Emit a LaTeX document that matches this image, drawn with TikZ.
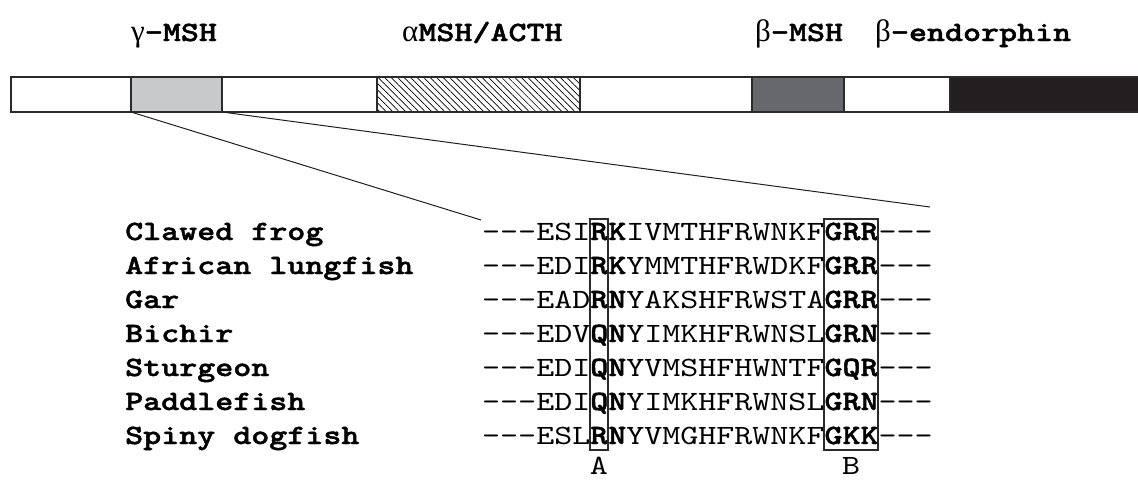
\documentclass[tikz,border=0pt]{standalone}
\usepackage{fontspec}
\newfontfamily\cour[Extension=.otf, BoldFont=lmmonolt10-bold, BoldFeatures={FakeBold=1.6}, FakeStretch=1.23]{lmmono10-regular}
\newfontfamily\grk{Liberation Serif}
\usetikzlibrary{patterns.meta}
\definecolor{lgray}{HTML}{C8C9CB}
\definecolor{dgray}{HTML}{67686B}
\definecolor{blk}{HTML}{231F20}
\definecolor{edge}{HTML}{2A2A2A}
\newcommand{\bigsz}{\fontsize{27.9}{28}\selectfont}
\tikzset{
  seg/.style={draw=edge, line width=1.5pt, minimum height=35pt, inner sep=0pt, outer sep=0pt},
  ttl/.style={anchor=base west, inner sep=0pt, font=\bigsz\cour\bfseries},
  spname/.style={anchor=base west, inner sep=0pt, font=\bigsz\cour\bfseries},
  sq/.style={anchor=base west, inner sep=0pt, font=\bigsz\cour},
  colbox/.style={draw=edge, line width=1.2pt, inner sep=0pt, outer sep=0pt},
  link/.style={draw=blk, line width=1pt}
}
\begin{document}
\begin{tikzpicture}[x=1pt,y=-1pt]
\useasboundingbox (0,0) rectangle (1138,480);
% titles
\node[ttl] (tg) at (131,41) {{\fontsize{31}{31}\grk\mdseries γ}-MSH};
\node[ttl] (ta) at (402,41) {{\fontsize{31}{31}\grk\mdseries α}MSH/ACTH};
\node[ttl] (tb) at (755,41) {{\fontsize{31}{31}\grk\mdseries β}-MSH};
\node[ttl] (te) at (875,41) {{\fontsize{31}{31}\grk\mdseries β}-endorphin};
% bar segments
\node[seg, fill=white, minimum width=120pt] (s1) at (71,94.5) {};
\node[seg, fill=lgray, minimum width=91pt] (s2) at (176.5,94.5) {};
\node[seg, fill=white, minimum width=155pt] (s3) at (299.5,94.5) {};
\node[seg, pattern={Lines[angle=-45,distance=4.6pt,line width=0.7pt]}, minimum width=203pt] (s4) at (478.5,94.5) {};
\node[seg, fill=white, minimum width=172pt] (s5) at (666,94.5) {};
\node[seg, fill=dgray, minimum width=92pt] (s6) at (798,94.5) {};
\node[seg, fill=white, minimum width=106pt] (s7) at (897,94.5) {};
\node[seg, fill=blk, minimum width=190pt] (s8) at (1045,94.5) {};
% connectors
\coordinate (c1) at (481,220);
\coordinate (c2) at (930,207);
\draw[link] (s2.south west) -- (c1);
\draw[link] (s2.south east) -- (c2);
% species names
\node[spname] (n1) at (125,240) {Clawed frog};
\node[spname] (n2) at (125,274) {African lungfish};
\node[spname] (n3) at (125,308) {Gar};
\node[spname] (n4) at (125,342) {Bichir};
\node[spname] (n5) at (125,376) {Sturgeon};
\node[spname] (n6) at (125,410) {Paddlefish};
\node[spname] (n7) at (125,444) {Spiny dogfish};
% sequences
\node[sq] (q1) at (482,240) {---ESI\textbf{RK}IVMTHFRWNKF\textbf{GRR}---};
\node[sq] (q2) at (482,274) {---EDI\textbf{RK}YMMTHFRWDKF\textbf{GRR}---};
\node[sq] (q3) at (482,308) {---EAD\textbf{RN}YAKSHFRWSTA\textbf{GRR}---};
\node[sq] (q4) at (482,342) {---EDV\textbf{QN}YIMKHFRWNSL\textbf{GRN}---};
\node[sq] (q5) at (482,376) {---EDI\textbf{QN}YVMSHFHWNTF\textbf{GQR}---};
\node[sq] (q6) at (482,410) {---EDI\textbf{QN}YIMKHFRWNSL\textbf{GRN}---};
\node[sq] (q7) at (482,444) {---ESL\textbf{RN}YVMGHFRWNKF\textbf{GKK}---};
% column boxes
\node[colbox, minimum width=18pt, minimum height=231pt] (bA) at (599,334.5) {};
\node[colbox, minimum width=54pt, minimum height=231pt] (bB) at (851,334.5) {};
% column labels
\node[sq, anchor=base] (lA) at (599,474) {A};
\node[sq, anchor=base] (lB) at (851,474) {B};
\end{tikzpicture}
\end{document}
